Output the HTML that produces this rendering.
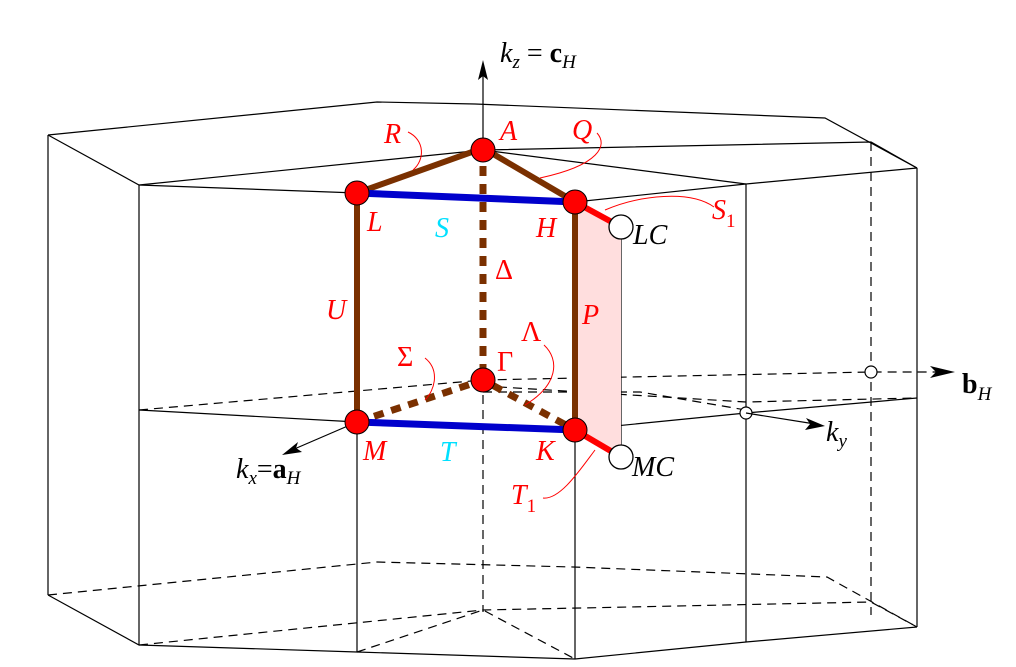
<!DOCTYPE html>
<html><head><meta charset="utf-8"><style>
html,body{margin:0;padding:0;background:#fff;}
svg{display:block;}
text{font-family:"Liberation Serif",serif;}
.lb{font-style:italic;font-size:28px;fill:#ff0000;}
.bk{font-style:italic;font-size:28px;fill:#000;}
.up{font-style:normal;}
.thin{stroke:#000;stroke-width:1.2;fill:none;}
.dash{stroke:#000;stroke-width:1.2;fill:none;stroke-dasharray:9,6;}
.cur{stroke:#ff0000;stroke-width:1;fill:none;}
</style></head><body>
<svg width="1016" height="667" viewBox="0 0 1016 667">
<g>
 <polyline class="thin" points="48,135 377,102 475,104 825,118 917,168"/>
 <polyline class="thin" points="48,135 139,185 357,193 575,202 746,184 917,168"/>
 <polyline class="thin" points="139,185 483,150 871,142 917,168"/>
 <polyline class="thin" points="483,150 746,184"/>
 <line class="thin" x1="48" y1="135" x2="48" y2="595"/>
 <line class="thin" x1="139" y1="185" x2="139" y2="645"/>
 <line class="thin" x1="357" y1="422" x2="357" y2="652"/>
 <line class="thin" x1="575" y1="430" x2="575" y2="659"/>
 <line class="thin" x1="746" y1="184" x2="746" y2="642"/>
 <line class="thin" x1="917" y1="168" x2="917" y2="627"/>
 <line class="thin" x1="621" y1="227" x2="621" y2="457"/>
 <line class="dash" x1="871" y1="142" x2="871" y2="615"/>
 <line class="dash" x1="483" y1="380" x2="483" y2="612"/>
 <polyline class="thin" points="48,595 139,645 357,652 575,659 746,642 917,627"/>
 <polyline class="dash" points="48,595 377,562 573,567 827,577 917,627"/>
 <polyline class="dash" points="139,645 483,610 871,602 917,627"/>
 <polyline class="dash" points="357,652 483,610 575,659"/>
 <polyline class="thin" points="139,410 357,422"/>
 <polyline class="thin" points="575,430 746,413 917,398"/>
 <polyline class="dash" points="139,410 483,380 871,372 940,372"/>
 <polyline class="dash" points="483,386 746,402 917,398"/>
 <polyline class="dash" points="483,392 640,392 746,410"/>
 <circle cx="871" cy="372" r="6" fill="#fff" stroke="#000" stroke-width="1.2"/>
 <circle cx="746" cy="413" r="6" fill="#fff" stroke="#000" stroke-width="1.2"/>
</g>
<polygon points="575,202 621,227 621,457 575,430" fill="#ffdede"/>
<g>
 <line class="thin" x1="483" y1="148" x2="483" y2="70"/>
 <polygon points="483,60 478,80 483,76 488,80" fill="#000"/>
 <line class="thin" x1="357" y1="422" x2="292" y2="450"/>
 <polygon points="282,455 298,442 296,448 302,452" fill="#000"/>
 <line class="thin" x1="746" y1="413" x2="815" y2="424"/>
 <polygon points="825,426 806,418 810,424 805,430" fill="#000"/>
 <polygon points="955,372 930,366 936,372 930,378" fill="#000"/>
</g>
<g>
 <polyline points="357,193 483,148 575,202" fill="none" stroke="#7a3000" stroke-width="6"/>
 <line x1="357" y1="193" x2="357" y2="422" stroke="#7a3000" stroke-width="6"/>
 <line x1="575" y1="202" x2="575" y2="430" stroke="#7a3000" stroke-width="6"/>
 <line x1="483" y1="148" x2="483" y2="380" stroke="#7a3000" stroke-width="7" stroke-dasharray="10,8"/>
 <polyline points="357,422 483,380 575,430" fill="none" stroke="#7a3000" stroke-width="7" stroke-dasharray="10,8"/>
 <line x1="357" y1="193" x2="575" y2="202" stroke="#0000cc" stroke-width="7"/>
 <line x1="357" y1="422" x2="575" y2="430" stroke="#0000cc" stroke-width="7"/>
 <line x1="575" y1="202" x2="621" y2="227" stroke="#ff0000" stroke-width="6"/>
 <line x1="575" y1="430" x2="621" y2="457" stroke="#ff0000" stroke-width="6"/>
</g>
<g>
 <circle cx="483" cy="150" r="12" fill="#f00" stroke="#000"/>
 <circle cx="357" cy="193" r="12" fill="#f00" stroke="#000"/>
 <circle cx="575" cy="202" r="12" fill="#f00" stroke="#000"/>
 <circle cx="483" cy="380" r="12" fill="#f00" stroke="#000"/>
 <circle cx="357" cy="422" r="12" fill="#f00" stroke="#000"/>
 <circle cx="575" cy="430" r="12" fill="#f00" stroke="#000"/>
 <circle cx="621" cy="227" r="12" fill="#fff" stroke="#000" stroke-width="1.3"/>
 <circle cx="621" cy="457" r="12" fill="#fff" stroke="#000" stroke-width="1.3"/>
</g>
<g>
 <path class="cur" d="M408,132 C425,140 425,160 413,170"/>
 <path class="cur" d="M597,133 C608,145 600,165 540,178"/>
 <path class="cur" d="M714,207 C690,190 640,195 605,210"/>
 <path class="cur" d="M425,358 C440,370 435,390 425,400"/>
 <path class="cur" d="M544,345 C560,360 558,385 525,405"/>
 <path class="cur" d="M543,498 C560,500 580,470 595,450"/>
</g>
<g>
 <text class="bk" x="500" y="62">k<tspan font-size="19" dy="6">z</tspan><tspan dy="-6" class="up"> = </tspan><tspan class="up" font-weight="bold">c</tspan><tspan font-size="19" dy="6">H</tspan></text>
 <text class="lb" x="384" y="143">R</text>
 <text class="lb" x="500" y="140">A</text>
 <text class="lb" x="572" y="139">Q</text>
 <text class="lb" x="367" y="231">L</text>
 <text class="lb" x="435" y="237" style="fill:#00e0ff">S</text>
 <text class="lb" x="536" y="237">H</text>
 <text class="bk" x="633" y="244">LC</text>
 <text class="lb" x="712" y="219">S<tspan font-size="19" class="up" dy="8">1</tspan></text>
 <text class="lb up" x="495" y="279">Δ</text>
 <text class="lb" x="326" y="319">U</text>
 <text class="lb" x="582" y="324">P</text>
 <text class="lb up" x="521" y="341">Λ</text>
 <text class="lb up" x="397" y="366">Σ</text>
 <text class="lb up" x="497" y="371">Γ</text>
 <text class="lb" x="363" y="460">M</text>
 <text class="lb" x="440" y="461" style="fill:#00e0ff">T</text>
 <text class="lb" x="536" y="460">K</text>
 <text class="bk" x="632" y="476">MC</text>
 <text class="lb" x="511" y="504">T<tspan font-size="19" class="up" dy="8">1</tspan></text>
 <text class="bk" x="236" y="478">k<tspan font-size="19" dy="6">x</tspan><tspan dy="-6" class="up">=</tspan><tspan class="up" font-weight="bold">a</tspan><tspan font-size="19" dy="6">H</tspan></text>
 <text class="bk" x="826" y="441">k<tspan font-size="19" dy="6">y</tspan></text>
 <text class="bk up" x="962" y="393" font-weight="bold">b<tspan font-size="19" font-weight="normal" style="font-style:italic" dy="7">H</tspan></text>
</g>
</svg>
</body></html>
